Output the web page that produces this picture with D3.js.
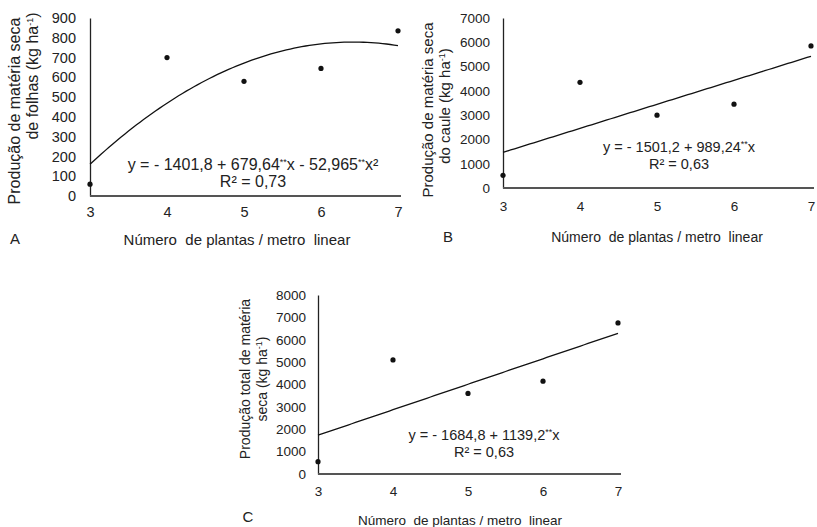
<!DOCTYPE html>
<html>
<head>
<meta charset="utf-8">
<script src="https://cdn.jsdelivr.net/npm/d3@7"></script>
<style>
  body { margin: 0; background: #fff; }
  svg { display: block; font-family: "Liberation Sans", Arial, sans-serif; }
  text { fill: #222; }
</style>
</head>
<body>
<script>
// plants per linear metre
const plants = [3, 4, 5, 6, 7];

// observed dry matter (kg/ha)
const leafValues = [60, 700, 580, 645, 835];
const stemValues = [520, 4350, 3000, 3450, 5850];
const totalValues = [550, 5100, 3600, 4150, 6750];

// fitted regression coefficients (c0 + c1*x + c2*x^2)
const leafCoef = [-1401.8, 679.64, -52.965];
const stemCoef = [-1501.2, 989.24, 0];
const totalCoef = [-1684.8, 1139.2, 0];

const xTicks = [3, 4, 5, 6, 7];
const leafTicks = [0, 100, 200, 300, 400, 500, 600, 700, 800, 900];
const stemTicks = [0, 1000, 2000, 3000, 4000, 5000, 6000, 7000];
const totalTicks = [0, 1000, 2000, 3000, 4000, 5000, 6000, 7000, 8000];

const width = 817, height = 527;

const svg = d3.select("body").append("svg")
    .attr("width", width)
    .attr("height", height);

// write text parts into a <text>, raising the ones marked sup
function richText(t, parts, supSize) {
    let raised = false;
    parts.forEach(part => {
        const s = t.append("tspan").text(part.t);
        if (part.sup) {
            s.attr("dy", raised ? 0 : -5).style("font-size", supSize);
            raised = true;
        } else if (raised) {
            s.attr("dy", 5);
            raised = false;
        }
    });
}

function panel(opt) {
    const x = d3.scaleLinear().domain([3, 7]).range([opt.x0, opt.x1]);
    const y = d3.scaleLinear().domain([0, opt.yMax]).range([opt.y0, opt.y1]);
    const fs = opt.fonts;
    const g = svg.append("g");

    // axes, no tick marks
    const yAxis = g.append("g")
        .attr("transform", `translate(${opt.x0},0)`)
        .call(d3.axisLeft(y).tickValues(opt.yTicks).tickFormat(d3.format("d")).tickSize(0).tickPadding(opt.yPad));
    yAxis.select(".domain").attr("stroke", "#222").attr("stroke-width", 1.3);

    const xAxis = g.append("g")
        .attr("transform", `translate(0,${opt.y0})`)
        .call(d3.axisBottom(x).tickValues(xTicks).tickFormat(d3.format("d")).tickSize(0).tickPadding(opt.xPad));
    xAxis.select(".domain").attr("stroke", "#555").attr("stroke-width", 2)
        .attr("d", `M${opt.x0},0H${opt.x1 + 3}`);

    g.selectAll(".tick text")
        .style("font-size", fs.tick + "px")
        .style("font-family", "'Liberation Sans', Arial, sans-serif")
        .attr("fill", "#222");

    // regression line
    const c = opt.coef;
    const f = v => c[0] + c[1] * v + c[2] * v * v;
    const xs = d3.range(3, 7.0001, 0.05);
    g.append("path")
        .datum(xs)
        .attr("fill", "none")
        .attr("stroke", "#111")
        .attr("stroke-width", 1.3)
        .attr("d", d3.line().x(d => x(d)).y(d => y(f(d))));

    // points
    g.selectAll("circle")
        .data(plants)
        .enter().append("circle")
        .attr("cx", d => x(d))
        .attr("cy", (d, i) => y(opt.values[i]))
        .attr("r", 2.6)
        .attr("fill", "#111");

    // equation
    const eq = g.append("text")
        .attr("x", opt.eqX).attr("y", opt.eqY)
        .attr("text-anchor", "middle")
        .style("font-size", fs.eq + "px");
    richText(eq, opt.eq, "9px");
    g.append("text")
        .attr("x", opt.eqX).attr("y", opt.eqY + 17)
        .attr("text-anchor", "middle")
        .style("font-size", fs.eq + "px")
        .text(opt.r2);

    // y title (two rotated lines)
    opt.yTitle.forEach((line, i) => {
        const t = g.append("text")
            .attr("transform", `translate(${opt.yTitleX[i]},${opt.yTitleY[i]}) rotate(-90)`)
            .attr("text-anchor", "middle")
            .attr("dy", "0.35em")
            .style("font-size", fs.yTitle + "px");
        richText(t, line, "9px");
    });

    // x title
    g.append("text")
        .attr("x", opt.xTitleX).attr("y", opt.xTitleY)
        .attr("text-anchor", "middle")
        .style("font-size", fs.xTitle + "px")
        .style("white-space", "pre")
        .text("Número  de plantas / metro  linear");

    // panel letter
    g.append("text")
        .attr("x", opt.letterX).attr("y", opt.letterY)
        .attr("text-anchor", "middle")
        .style("font-size", "15px")
        .text(opt.letter);
}

panel({
    x0: 90, x1: 398, y0: 196, y1: 18, yMax: 900, yTicks: leafTicks, yPad: 14, xPad: 11,
    fonts: {tick: 14.5, yTitle: 16, xTitle: 15, eq: 16},
    values: leafValues, coef: leafCoef,
    eq: [{t: "y = - 1401,8 + 679,64"}, {t: "**", sup: true}, {t: "x - 52,965"}, {t: "**", sup: true}, {t: "x²"}],
    r2: "R² = 0,73", eqX: 253, eqY: 170,
    yTitle: [[{t: "Produção de matéria seca"}], [{t: "de folhas (kg ha"}, {t: "-1", sup: true}, {t: ")"}]],
    yTitleX: [14, 32], yTitleY: [111, 76],
    xTitleX: 237, xTitleY: 245, letter: "A", letterX: 15, letterY: 244
});

panel({
    x0: 503, x1: 811, y0: 188, y1: 18, yMax: 7000, yTicks: stemTicks, yPad: 13, xPad: 13,
    fonts: {tick: 13.5, yTitle: 15, xTitle: 14, eq: 14.5},
    values: stemValues, coef: stemCoef,
    eq: [{t: "y = - 1501,2 + 989,24"}, {t: "**", sup: true}, {t: "x"}],
    r2: "R² = 0,63", eqX: 679, eqY: 152,
    yTitle: [[{t: "Produção de matéria seca"}], [{t: "do caule (kg ha"}, {t: "-1", sup: true}, {t: ")"}]],
    yTitleX: [428, 445], yTitleY: [110, 106],
    xTitleX: 657, xTitleY: 242, letter: "B", letterX: 448, letterY: 242
});

panel({
    x0: 318, x1: 618, y0: 474, y1: 295, yMax: 8000, yTicks: totalTicks, yPad: 12, xPad: 12,
    fonts: {tick: 13.5, yTitle: 14, xTitle: 13.5, eq: 14.5},
    values: totalValues, coef: totalCoef,
    eq: [{t: "y = - 1684,8 + 1139,2"}, {t: "**", sup: true}, {t: "x"}],
    r2: "R² = 0,63", eqX: 484, eqY: 440,
    yTitle: [[{t: "Produção total de matéria"}], [{t: "seca (kg ha"}, {t: "-1", sup: true}, {t: ")"}]],
    yTitleX: [245, 262], yTitleY: [379, 379],
    xTitleX: 460, xTitleY: 525, letter: "C", letterX: 248, letterY: 522
});
</script>
</body>
</html>
